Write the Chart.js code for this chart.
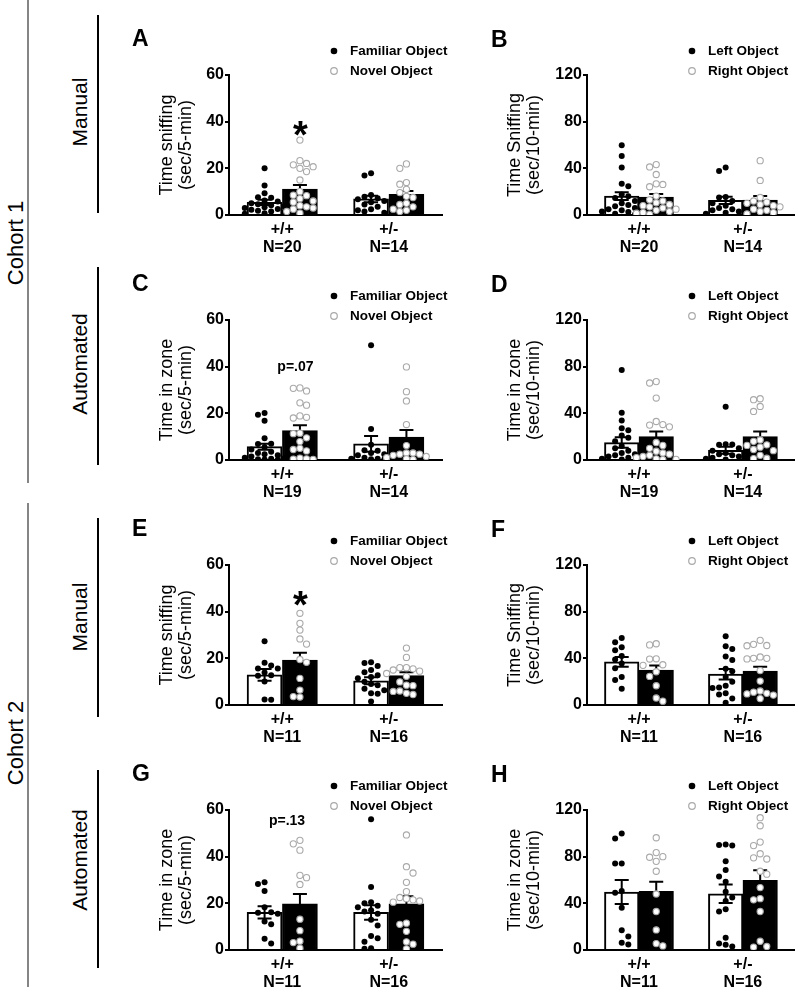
<!DOCTYPE html>
<html>
<head>
<meta charset="utf-8">
<script src="https://cdn.jsdelivr.net/npm/chart.js@4.4.1/dist/chart.umd.min.js"></script>
<style>
html,body{margin:0;padding:0;background:#fff;width:800px;height:991px;overflow:hidden;position:relative;font-family:"Liberation Sans",Arial,Helvetica,sans-serif;color:#000;}
canvas{position:absolute;}
.vline{position:absolute;width:2px;}
.side{position:absolute;transform:translate(-50%,-50%) rotate(-90deg);white-space:nowrap;color:#000;}
</style>
</head>
<body>
<div class="vline" style="left:27px;top:0px;height:483px;background:#858585"></div>
<div class="vline" style="left:27px;top:503px;height:484px;background:#858585"></div>
<div class="vline" style="left:97px;top:15px;height:198px;background:#000"></div>
<div class="vline" style="left:97px;top:267px;height:198px;background:#000"></div>
<div class="vline" style="left:97px;top:518px;height:199px;background:#000"></div>
<div class="vline" style="left:97px;top:770px;height:198px;background:#000"></div>
<div class="side" style="left:16px;top:243px;font-size:22px">Cohort 1</div>
<div class="side" style="left:16px;top:743px;font-size:22px">Cohort 2</div>
<div class="side" style="left:80px;top:112px;font-size:21px">Manual</div>
<div class="side" style="left:80px;top:364px;font-size:21px">Automated</div>
<div class="side" style="left:80px;top:617px;font-size:21px">Manual</div>
<div class="side" style="left:80px;top:860px;font-size:21px">Automated</div>

<canvas id="cA" width="350" height="236" style="left:120px;top:20px"></canvas>
<canvas id="cB" width="330" height="236" style="left:470px;top:20px"></canvas>
<canvas id="cC" width="350" height="236" style="left:120px;top:265px"></canvas>
<canvas id="cD" width="330" height="236" style="left:470px;top:265px"></canvas>
<canvas id="cE" width="350" height="236" style="left:120px;top:510px"></canvas>
<canvas id="cF" width="330" height="236" style="left:470px;top:510px"></canvas>
<canvas id="cG" width="350" height="236" style="left:120px;top:755px"></canvas>
<canvas id="cH" width="330" height="236" style="left:470px;top:755px"></canvas>

<script>
// ---------- DATA ----------
const genotypes = ['+/+', '+/-'];
const nCohort1Manual = [20, 14];
const nCohort1Auto = [19, 14];
const nCohort2 = [11, 16];

const legendFamNov = ['Familiar Object', 'Novel Object'];
const legendLeftRight = ['Left Object', 'Right Object'];

const titleA = ['Time sniffing', '(sec/5-min)'];
const titleB = ['Time Sniffing', '(sec/10-min)'];
const titleC = ['Time in zone', '(sec/5-min)'];
const titleD = ['Time in zone', '(sec/10-min)'];

// Panel A
const A_famMean = [5.4, 6.9], A_famSem = [1.1, 1.4];
const A_novMean = [11.1, 8.9], A_novSem = [1.8, 1.4];
const A_fam_wt = [20, 12.6, 9.3, 7.6, 7.4, 6.2, 5.8, 5.0, 4.6, 4.2, 3.8, 3.3, 3.0, 2.6, 2.2, 1.8, 1.5, 1.1, 0.8, 0.5];
const A_nov_wt = [32.1, 23.3, 22.1, 21.5, 20.7, 20, 18.6, 15, 10, 8.5, 8.3, 7, 6, 5.5, 4, 3.5, 3, 2.5, 1.5, 0.8];
const A_fam_het = [17.9, 16.9, 8.6, 7.8, 7.2, 6.8, 6, 5.5, 4.5, 3.5, 2.5, 2, 1.5, 1];
const A_nov_het = [21.9, 20, 13.9, 13.2, 11, 9.6, 8, 7.5, 5, 4.5, 3.5, 2.5, 2, 1.5];

// Panel B
const B_leftMean = [16.2, 12.5], B_leftSem = [3.4, 3.1];
const B_rightMean = [15.4, 12.8], B_rightSem = [2.5, 3.4];
const B_left_wt = [59.7, 50.6, 40.7, 26.7, 24.7, 17.6, 16, 14.5, 12, 10, 8.5, 7.5, 6, 5, 4, 3, 2.5, 2, 1, 0.5];
const B_right_wt = [43.2, 41.2, 34.7, 26.7, 26.2, 24.2, 16.2, 13, 12, 10.5, 9, 8, 7, 6, 5, 4, 3, 2, 1.5, 0.5];
const B_left_het = [40.7, 37.8, 15.5, 15, 12, 10, 8, 6, 5, 4, 3, 2, 1.5, 1];
const B_right_het = [46.6, 29.6, 15, 12, 11, 10, 9, 8, 7, 5, 4, 3, 2, 1];

// Panel C
const C_famMean = [5.7, 6.9], C_famSem = [1.3, 3.4];
const C_novMean = [12.6, 9.8], C_novSem = [2.3, 3.1];
const C_fam_wt = [20.1, 19.4, 16.8, 9.3, 7, 6.9, 5.5, 4.5, 3.5, 3, 2.5, 2, 1.5, 1, 0.8, 0.5, 0.3, 0.2, 0.1];
const C_nov_wt = [30.9, 30.7, 29.6, 24.5, 23.5, 18.9, 18.3, 18, 11.5, 11.3, 9.5, 7.9, 5, 4.5, 3.9, 0.8, 0.5, 0.4, 0.3];
const C_fam_het = [49.2, 13.3, 6.5, 4.2, 4, 3, 2.5, 2, 1.5, 1, 0.5, 0.5, 0.3, 0.2];
const C_nov_het = [39.9, 29.3, 25.3, 15.2, 6.2, 3, 3, 2.5, 2.5, 2, 1.5, 1, 0.5, 0.2];

// Panel D
const D_leftMean = [14.9, 8.3], D_leftSem = [4.5, 3.0];
const D_rightMean = [20.1, 20.1], D_rightSem = [4.3, 4.3];
const D_left_wt = [77.2, 40.5, 33.9, 27.3, 25.6, 21, 19, 16, 12, 10, 8, 6, 5, 4, 3, 2, 1.5, 1, 0.5];
const D_right_wt = [67.2, 66, 53.1, 33, 30.4, 29.9, 28.4, 15, 12.5, 10, 7.5, 6, 5, 4, 3, 2, 1, 0.5, 0.3];
const D_left_het = [45.6, 13.5, 13.3, 13, 10, 8, 6, 5, 4, 3, 2.5, 2, 1, 0.5];
const D_right_het = [52.5, 51.7, 45.9, 41.6, 17.2, 16, 13, 12.5, 11, 9, 8, 4, 1.5, 1.2];

// Panel E
const E_famMean = [12.9, 10.4], E_famSem = [2.5, 1.5];
const E_novMean = [19.3, 12.6], E_novSem = [3.1, 1.4];
const E_fam_wt = [27.3, 18.1, 16.9, 15.6, 15.6, 13.9, 12.7, 12.5, 10.1, 2.4, 2.2];
const E_nov_wt = [39.3, 35, 32.1, 28.3, 26.1, 19.5, 18.3, 11.4, 6.4, 3.6, 3.4];
const E_fam_het = [18.3, 18, 16.7, 15, 14, 12.8, 12, 11.5, 10, 9, 8.5, 7, 6.3, 5, 4.8, 1.5];
const E_nov_het = [24.4, 20.4, 16, 16, 15.5, 15, 14.5, 13.5, 12.3, 9.9, 8.5, 8.3, 6, 5.8, 5, 4.5];

// Panel F
const F_leftMean = [37, 26.4], F_leftSem = [4.2, 4.5];
const F_rightMean = [29.9, 29], F_rightSem = [3.9, 3.7];
const F_left_wt = [57.4, 53.8, 49.5, 47, 42, 39, 35.5, 31.5, 24, 21.5, 14];
const F_right_wt = [52.5, 51.5, 39.6, 39.4, 34.5, 34, 28.5, 24.5, 16.5, 6, 3.3];
const F_left_het = [58.9, 50.3, 48, 41.5, 38.5, 31, 29, 24, 20, 16.5, 15, 14.5, 10, 9, 5.5, 2];
const F_right_het = [55.4, 52, 51, 50.8, 41.2, 40, 40, 39.5, 29.5, 20.5, 12, 11, 10, 9.5, 8.5, 5.5];

// Panel G
const G_famMean = [16.1, 16.1], G_famSem = [2.6, 3.1];
const G_novMean = [19.8, 19.8], G_novSem = [4.2, 3.2];
const G_fam_wt = [29, 28.3, 25.3, 18.3, 16.2, 16, 15.5, 12.2, 11, 4.8, 2.8];
const G_nov_wt = [47, 45.5, 42.8, 32, 31, 28.1, 13.2, 8.3, 3.8, 3.2, 0.8];
const G_fam_het = [56, 27, 20.5, 20, 19, 18.3, 17, 16.5, 15.5, 13, 10.5, 6, 5, 3.5, 0.8, 0.5];
const G_nov_het = [49.3, 35.7, 33, 29, 25, 22.5, 22, 21.5, 21, 20.5, 11.5, 11, 8, 3.5, 2.5, 0.5];

// Panel H
const H_leftMean = [49.7, 48.2], H_leftSem = [10.3, 8.0];
const H_rightMean = [50.2, 59.7], H_rightSem = [8.4, 8.6];
const H_left_wt = [99.9, 95.6, 74.1, 74.1, 50.5, 49, 36.2, 17, 11.5, 6.3, 4.8];
const H_right_wt = [96.2, 83.5, 80, 79.5, 76, 67.5, 48, 33, 17.2, 5.5, 3.5];
const H_left_het = [90.5, 90, 89.5, 76, 68.5, 63, 58.5, 50, 45, 42, 35, 33, 10.5, 5.5, 4.5, 3];
const H_right_het = [113.4, 106.5, 92.5, 89.5, 82.5, 79, 78, 67.5, 65, 53.5, 44, 43, 33, 7.5, 3, 2.5];

// significance annotations
const noteStar = '*';
const noteC = 'p=.07';
const noteG = 'p=.13';

// ---------- RENDERING ----------
const FONT = '"Liberation Sans", Arial, Helvetica, sans-serif';
Chart.defaults.font.family = FONT;
Chart.defaults.color = '#000';

const HALF_OFF = 0.166;

// horizontal spread of points inside a column (layout only)
function swarm(values, center, yMax, pxX) {
  const pxY = 140 / yMax, d = 6.6, step = 6.6 / pxX, maxK = 3;
  const idx = values.map((v, i) => i).sort((a, b) => values[b] - values[a]);
  const placed = [], out = [];
  const cands = [0];
  for (let k = 1; k <= maxK; k++) cands.push(k, -k);
  idx.forEach((i, n) => {
    const v = values[i];
    let best = 0, bestD = -1;
    const sgn = n % 2 ? -1 : 1;
    for (const s0 of cands) {
      const dx = s0 * sgn * step;
      let md = Infinity;
      placed.forEach(p => { md = Math.min(md, Math.hypot((p.x - dx) * pxX, (p.y - v) * pxY)); });
      if (md >= d) { best = dx; bestD = md; break; }
      if (md > bestD) { bestD = md; best = dx; }
    }
    placed.push({x: best, y: v});
    out[i] = {x: center + best, y: v};
  });
  return out;
}

const errorBars = {
  id: 'errorBars',
  afterDatasetDraw(chart, args) {
    const ds = chart.data.datasets[args.index];
    if (!ds.sem) return;
    const ctx = chart.ctx, ys = chart.scales.y;
    ctx.save();
    ctx.strokeStyle = '#000';
    ctx.lineWidth = 2;
    args.meta.data.forEach((bar, i) => {
      const m = ds.data[i].y, e = ds.sem[i];
      const yt = ys.getPixelForValue(m + e), yb = ys.getPixelForValue(Math.max(0, m - e));
      const x = bar.x, hw = 7;
      ctx.beginPath();
      ctx.moveTo(x, yb); ctx.lineTo(x, yt);
      ctx.moveTo(x - hw, yt); ctx.lineTo(x + hw, yt);
      ctx.moveTo(x - hw, yb); ctx.lineTo(x + hw, yb);
      ctx.stroke();
    });
    ctx.restore();
  }
};

const decor = {
  id: 'decor',
  afterDraw(chart, args, opts) {
    const ctx = chart.ctx, ca = chart.chartArea;
    ctx.save();
    ctx.fillStyle = '#000';
    ctx.font = 'bold 23px ' + FONT;
    ctx.textAlign = 'left';
    ctx.textBaseline = 'middle';
    ctx.fillText(opts.letter, ca.left + opts.letterDx, ca.top + opts.letterDy);
    const pts = chart.data.datasets.filter(d => d.type === 'scatter');
    pts.forEach((d, i) => {
      const y = ca.top - 24 + 20 * i, x = ca.left + 105;
      ctx.beginPath();
      ctx.arc(x, y, 3.3, 0, 2 * Math.PI);
      ctx.fillStyle = d.pointBackgroundColor;
      ctx.fill();
      if (d.pointBorderWidth) { ctx.lineWidth = 1.2; ctx.strokeStyle = d.pointBorderColor; ctx.stroke(); }
      ctx.fillStyle = '#000';
      ctx.font = 'bold 13.5px ' + FONT;
      ctx.textAlign = 'left';
      ctx.textBaseline = 'middle';
      ctx.fillText(d.label, ca.left + 121, y);
    });
    if (opts.note) {
      const n = opts.note;
      const px = chart.scales.xp.getPixelForValue(n.x);
      const py = chart.scales.y.getPixelForValue(n.y);
      ctx.fillStyle = '#000';
      ctx.textAlign = 'center';
      ctx.font = 'bold ' + n.size + 'px ' + FONT;
      if (n.star) {
        ctx.textBaseline = 'alphabetic';
        ctx.fillText(n.text, px, py + 0.56 * n.size);
      } else {
        ctx.textBaseline = 'middle';
        ctx.fillText(n.text, px, py);
      }
    }
    ctx.restore();
  }
};

function makePanel(p) {
  const isLeft = p.side === 'left';
  const pxX = isLeft ? 106.5 : 104;
  const labels = genotypes.map((g, i) => [g, 'N=' + p.n[i]]);
  const bars1 = p.m1.map((v, c) => ({x: c - HALF_OFF, y: v}));
  const bars2 = p.m2.map((v, c) => ({x: c + HALF_OFF, y: v}));
  const pts1 = [].concat(...p.p1.map((vals, c) => swarm(vals, c - HALF_OFF, p.yMax, pxX)));
  const pts2 = [].concat(...p.p2.map((vals, c) => swarm(vals, c + HALF_OFF, p.yMax, pxX)));
  const barStyle = {xAxisID: 'xp', yAxisID: 'y', borderColor: '#000', borderWidth: 2,
    grouped: false, categoryPercentage: 1, barPercentage: 1, maxBarThickness: 35, order: 2};
  new Chart(document.getElementById(p.id), {
    type: 'bar',
    data: {
      labels: labels,
      datasets: [
        Object.assign({type: 'bar', label: p.legend[0], data: bars1, sem: p.e1, backgroundColor: '#fff'}, barStyle),
        Object.assign({type: 'bar', label: p.legend[1], data: bars2, sem: p.e2, backgroundColor: '#000'}, barStyle),
        {type: 'scatter', label: p.legend[0], data: pts1, xAxisID: 'xp', yAxisID: 'y',
         pointRadius: 3, pointBackgroundColor: '#000', pointBorderColor: '#000', pointBorderWidth: 0, order: 1},
        {type: 'scatter', label: p.legend[1], data: pts2, xAxisID: 'xp', yAxisID: 'y',
         pointRadius: 3.1, pointBackgroundColor: '#fff', pointBorderColor: '#a9a9a9', pointBorderWidth: 1.1, order: 0}
      ]
    },
    options: {
      responsive: false,
      animation: false,
      devicePixelRatio: 1,
      events: [],
      layout: {padding: {top: 55, right: isLeft ? 28 : 5, left: 0, bottom: 0}},
      plugins: {
        legend: {display: false},
        tooltip: {enabled: false},
        decor: {letter: p.letter, letterDx: isLeft ? -97 : -96, letterDy: isLeft ? -35 : -34, note: p.note}
      },
      scales: {
        x: {
          type: 'category', offset: true,
          grid: {display: false, drawTicks: false},
          border: {display: true, color: '#000', width: 2},
          ticks: {color: '#000', font: {size: 16, weight: 'bold', lineHeight: 1.125}, padding: 6, maxRotation: 0},
          afterFit: s => { s.height = 41; }
        },
        xp: {type: 'linear', display: false, offset: false, min: -0.5, max: 1.5, ticks: {stepSize: 0.5}},
        y: {
          min: 0, max: p.yMax,
          ticks: {stepSize: p.yMax / 3, color: '#000', font: {size: 16, weight: 'bold'}, padding: 1},
          grid: {drawOnChartArea: false, drawTicks: true, tickLength: 4, color: '#000', lineWidth: 2},
          border: {display: true, color: '#000', width: 2},
          title: {display: true, text: p.title, color: '#000', font: {size: 18, lineHeight: 1.07},
                  padding: {top: isLeft ? 37.4 : 35.4, bottom: 0}},
          afterFit: s => { s.width = isLeft ? 109 : 117; }
        }
      }
    },
    plugins: [errorBars, decor]
  });
}

makePanel({id: 'cA', side: 'left', letter: 'A', yMax: 60, title: titleA, legend: legendFamNov, n: nCohort1Manual,
  m1: A_famMean, e1: A_famSem, m2: A_novMean, e2: A_novSem, p1: [A_fam_wt, A_fam_het], p2: [A_nov_wt, A_nov_het],
  note: {text: noteStar, star: true, x: 0.17, y: 37.7, size: 38}});
makePanel({id: 'cB', side: 'right', letter: 'B', yMax: 120, title: titleB, legend: legendLeftRight, n: nCohort1Manual,
  m1: B_leftMean, e1: B_leftSem, m2: B_rightMean, e2: B_rightSem, p1: [B_left_wt, B_left_het], p2: [B_right_wt, B_right_het]});
makePanel({id: 'cC', side: 'left', letter: 'C', yMax: 60, title: titleC, legend: legendFamNov, n: nCohort1Auto,
  m1: C_famMean, e1: C_famSem, m2: C_novMean, e2: C_novSem, p1: [C_fam_wt, C_fam_het], p2: [C_nov_wt, C_nov_het],
  note: {text: noteC, x: 0.124, y: 39.6, size: 14}});
makePanel({id: 'cD', side: 'right', letter: 'D', yMax: 120, title: titleD, legend: legendLeftRight, n: nCohort1Auto,
  m1: D_leftMean, e1: D_leftSem, m2: D_rightMean, e2: D_rightSem, p1: [D_left_wt, D_left_het], p2: [D_right_wt, D_right_het]});
makePanel({id: 'cE', side: 'left', letter: 'E', yMax: 60, title: titleA, legend: legendFamNov, n: nCohort2,
  m1: E_famMean, e1: E_famSem, m2: E_novMean, e2: E_novSem, p1: [E_fam_wt, E_fam_het], p2: [E_nov_wt, E_nov_het],
  note: {text: noteStar, star: true, x: 0.17, y: 46.3, size: 38}});
makePanel({id: 'cF', side: 'right', letter: 'F', yMax: 120, title: titleB, legend: legendLeftRight, n: nCohort2,
  m1: F_leftMean, e1: F_leftSem, m2: F_rightMean, e2: F_rightSem, p1: [F_left_wt, F_left_het], p2: [F_right_wt, F_right_het]});
makePanel({id: 'cG', side: 'left', letter: 'G', yMax: 60, title: titleC, legend: legendFamNov, n: nCohort2,
  m1: G_famMean, e1: G_famSem, m2: G_novMean, e2: G_novSem, p1: [G_fam_wt, G_fam_het], p2: [G_nov_wt, G_nov_het],
  note: {text: noteG, x: 0.045, y: 55.1, size: 14}});
makePanel({id: 'cH', side: 'right', letter: 'H', yMax: 120, title: titleD, legend: legendLeftRight, n: nCohort2,
  m1: H_leftMean, e1: H_leftSem, m2: H_rightMean, e2: H_rightSem, p1: [H_left_wt, H_left_het], p2: [H_right_wt, H_right_het]});
</script>
</body>
</html>
